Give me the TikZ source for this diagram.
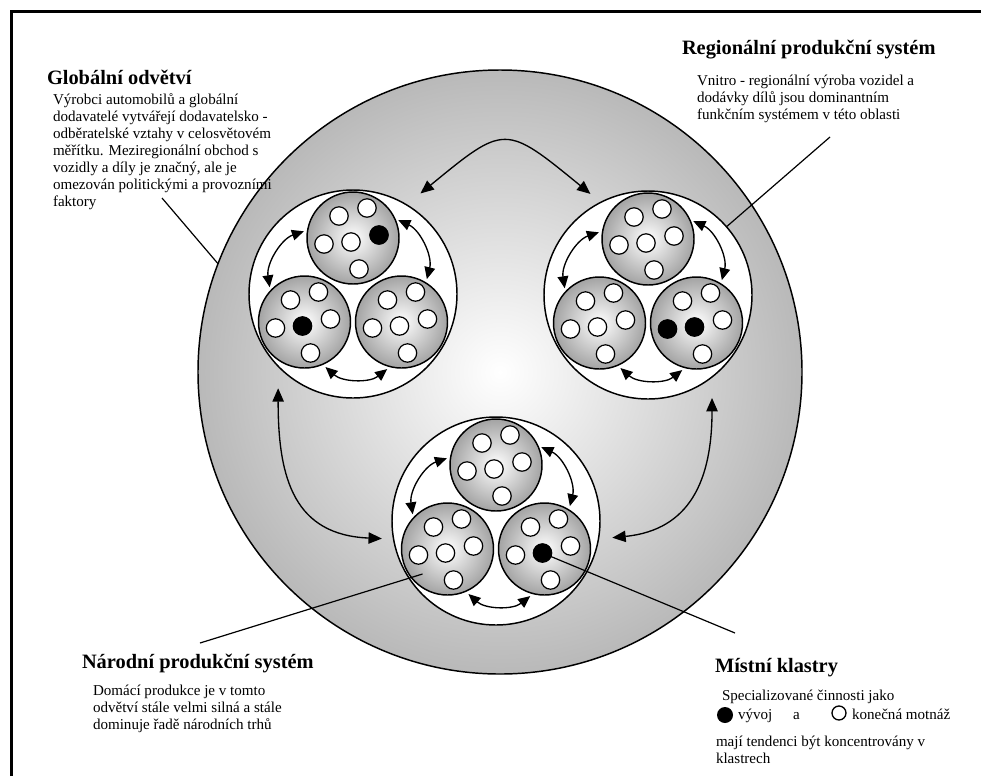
\documentclass[tikz,border=0pt]{standalone}
\usepackage{fontspec}
\setmainfont{Liberation Serif}
\usetikzlibrary{arrows.meta,positioning}

\begin{document}
\begin{tikzpicture}[x=0.75pt,y=-0.75pt,inner sep=0pt,outer sep=0pt,
ring/.style={draw,circle,line width=1.1pt,minimum size=#1},
world/.style={ring=453pt,shade,inner color=white,outer color=gray!55},
plant/.style={ring=156pt,fill=white},
firm/.style={ring=69pt,shade,inner color=white,outer color=gray!72},
wdot/.style={draw,circle,fill=white,line width=0.9pt,minimum size=13.8pt},
link/.style={line width=1pt,{Triangle[length=9pt,width=8pt]}-{Triangle[length=9pt,width=8pt]}},
wide link/.style={line width=1pt,{Triangle[length=10pt,width=8.5pt]}-{Triangle[length=10pt,width=8.5pt]}},
lead/.style={line width=0.9pt},
head/.style={font=\fontsize{15.3}{18}\selectfont\bfseries,anchor=west},
body/.style={font=\fontsize{11.3}{12.75}\selectfont,align=left,anchor=north west}]

\useasboundingbox (0,0) rectangle (981,776);
\draw[line width=2.6pt] (11.5,776) -- (11.5,11.5) -- (981,11.5);

% world and the three regions
\draw (500,372) node[world] (globe) {};
\draw (353,294) node[plant] (A) {};
\draw (648,295) node[plant] (B) {};
\draw (496,521) node[plant] (C) {};

% national systems inside each region
\foreach \c in {A,B,C}{
  \node[firm] (\c1) at ([shift={(0,-56)}]\c) {};
  \node[firm] (\c2) at ([shift={(-48.5,28)}]\c) {};
  \node[firm] (\c3) at ([shift={(48.5,28)}]\c) {};
}
\foreach \f in {A1,A2,A3,B1,B2,B3,C1,C2,C3}
  \foreach \dx/\dy [count=\i] in {-14/-22,14/-30,26/-3,-2/4,-29/6,6/31}
    \node[wdot] (\f-\i) at ([shift={(\dx,\dy)}]\f) {};
\foreach \d in {A1-3,A2-4,B3-4,B3-5,C3-4}
  \fill (\d) circle (9.5);

% links inside a region
\foreach \c in {A,B,C}{
  \draw[link,shorten <=3pt,shorten >=3pt] (\c1.170) to[bend right=40] (\c2.138);
  \draw[link,shorten <=3pt,shorten >=3pt] (\c1.25) to[bend left=40] (\c3.58);
  \draw[link,shorten <=3pt,shorten >=3pt] (\c2.-67) to[bend right=40] (\c3.-104);
}

% links between regions
\draw[wide link,shorten <=13.5pt,shorten >=10pt] (A.59) .. controls (505,124) .. (B.117);
\draw[wide link,shorten <=16.5pt,shorten >=8.8pt] (A.224) .. controls (278,480) and (295,535) .. (C.190);
\draw[wide link,shorten <=15.75pt,shorten >=10.5pt] (B.-52) .. controls (712,480) and (690,530) .. (C.-10);

% leaders
\coordinate (gl) at (162,198);
\coordinate (rl) at (830,137);
\coordinate (nl) at (200,643);
\coordinate (ml) at (735,633);
\draw[lead] (gl) -- (globe.159);
\draw[lead] (rl) -- (B.41);
\draw[lead] (nl) -- ([shift={(-25,25)}]C2.center);
\draw[lead] (C3-4.center) -- (ml);

\node[head] (globT) at (47,77) {Globální odvětví};
\node[body] (globB) at (53,94) {Výrobci automobilů a globální\\dodavatelé vytvářejí dodavatelsko -\\odběratelské vztahy v celosvětovém\\měřítku. Meziregionální obchod s\\vozidly a díly je značný, ale je\\omezován politickými a provozními\\faktory};

\node[head] (regT) at (682,50) {Regionální produkční systém};
\node[body] (regB) at (697,75) {Vnitro - regionální výroba vozidel a\\dodávky dílů jsou dominantním\\funkčním systémem v této oblasti};

\node[head] (narT) at (82,663) {Národní produkční systém};
\node[body] (narB) at (93,685) {Domácí produkce je v tomto\\odvětví stále velmi silná a stále\\dominuje řadě národních trhů};

\node[head] (mistT) at (715,668) {Místní klastry};
\node[body] (mistB) at (722,690) {Specializované činnosti jako};
\node[circle,fill,minimum size=12pt] (keyD) at (725,715) {};
\node[body,anchor=base west] (keyDt) at (738,719) {vývoj};
\node[body,anchor=base west] (keyA) at (793,719) {a};
\node[circle,draw,line width=1pt,minimum size=10.5pt] (keyW) at (839,713) {};
\node[body,anchor=base west] (keyWt) at (852,719) {konečná motnáž};
\node[body] (mistC) at (716,736) {mají tendenci být koncentrovány v\\klastrech};
\end{tikzpicture}
\end{document}
